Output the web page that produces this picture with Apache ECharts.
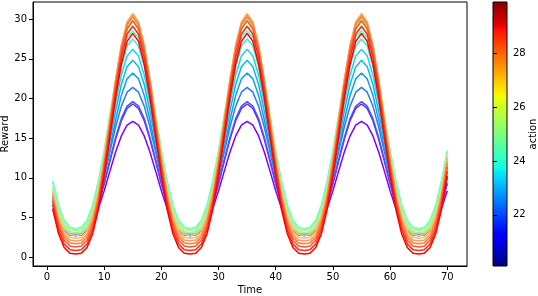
<!DOCTYPE html>
<html>
<head>
<meta charset="utf-8">
<script src="https://cdn.jsdelivr.net/npm/echarts@6.0.0/dist/echarts.min.js"></script>
<style>html,body{margin:0;padding:0;background:#fff;}#c{width:538px;height:296px;}</style>
</head>
<body>
<div id="c"></div>
<script>
const time = [1,2,3,4,5,6,7,8,9,10,11,12,13,14,15,16,17,18,19,20,21,22,23,24,25,26,27,28,29,30,31,32,33,34,35,36,37,38,39,40,41,42,43,44,45,46,47,48,49,50,51,52,53,54,55,56,57,58,59,60,61,62,63,64,65,66,67,68,69,70];
const actions = [20.10,20.62,21.13,21.65,22.16,22.68,23.19,23.71,24.23,24.74,25.26,25.77,26.29,26.81,27.32,27.84,28.35,28.87,29.38,29.90];
const xTicks = [0,10,20,30,40,50,60,70];
const yTicks = [0,5,10,15,20,25,30];
const cbTicks = [22,24,26,28];

const reward_0 = [6.17,4.45,3.35,2.85,
2.75,2.85,3.35,4.45,6.17,8.38,10.85,13.26,15.28,16.63,17.10,16.63,15.28,13.26,10.85,8.38,6.17,4.45,3.35,2.85,
2.75,2.85,3.35,4.45,6.17,8.38,10.85,13.26,15.28,16.63,17.10,16.63,15.28,13.26,10.85,8.38,6.17,4.45,3.35,2.85,
2.75,2.85,3.35,4.45,6.17,8.38,10.85,13.26,15.28,16.63,17.10,16.63,15.28,13.26,10.85,8.38,6.17,4.45,3.35,2.85,
2.75,2.85,3.35,4.45,6.17,8.38];
const reward_1 = [6.69,4.71,3.45,2.86,
2.75,2.86,3.45,4.71,6.69,9.24,12.09,14.87,17.20,18.75,19.30,18.75,17.20,14.87,12.09,9.24,6.69,4.71,3.45,2.86,
2.75,2.86,3.45,4.71,6.69,9.24,12.09,14.87,17.20,18.75,19.30,18.75,17.20,14.87,12.09,9.24,6.69,4.71,3.45,2.86,
2.75,2.86,3.45,4.71,6.69,9.24,12.09,14.87,17.20,18.75,19.30,18.75,17.20,14.87,12.09,9.24,6.69,4.71,3.45,2.86,
2.75,2.86,3.45,4.71,6.69,9.24];
const reward_2 = [6.76,4.75,3.46,2.86,
2.75,2.86,3.46,4.75,6.76,9.36,12.26,15.09,17.47,19.04,19.60,19.04,17.47,15.09,12.26,9.36,6.76,4.75,3.46,2.86,
2.75,2.86,3.46,4.75,6.76,9.36,12.26,15.09,17.47,19.04,19.60,19.04,17.47,15.09,12.26,9.36,6.76,4.75,3.46,2.86,
2.75,2.86,3.46,4.75,6.76,9.36,12.26,15.09,17.47,19.04,19.60,19.04,17.47,15.09,12.26,9.36,6.76,4.75,3.46,2.86,
2.75,2.86,3.46,4.75,6.76,9.36];
const reward_3 = [7.19,4.96,3.53,2.87,
2.75,2.87,3.53,4.96,7.19,10.07,13.27,16.41,19.04,20.79,21.40,20.79,19.04,16.41,13.27,10.07,7.19,4.96,3.53,2.87,
2.75,2.87,3.53,4.96,7.19,10.07,13.27,16.41,19.04,20.79,21.40,20.79,19.04,16.41,13.27,10.07,7.19,4.96,3.53,2.87,
2.75,2.87,3.53,4.96,7.19,10.07,13.27,16.41,19.04,20.79,21.40,20.79,19.04,16.41,13.27,10.07,7.19,4.96,3.53,2.87,
2.75,2.87,3.53,4.96,7.19,10.07];
const reward_4 = [7.14,4.94,3.64,3.13,
3.05,3.13,3.64,4.94,7.14,10.18,13.72,17.30,20.38,22.47,23.20,22.47,20.38,17.30,13.72,10.18,7.14,4.94,3.64,3.13,
3.05,3.13,3.64,4.94,7.14,10.18,13.72,17.30,20.38,22.47,23.20,22.47,20.38,17.30,13.72,10.18,7.14,4.94,3.64,3.13,
3.05,3.13,3.64,4.94,7.14,10.18,13.72,17.30,20.38,22.47,23.20,22.47,20.38,17.30,13.72,10.18,7.14,4.94,3.64,3.13,
3.05,3.13,3.64,4.94,7.14,10.18];
const reward_5 = [7.47,5.09,3.69,3.13,
3.05,3.13,3.69,5.09,7.47,10.74,14.57,18.44,21.76,24.01,24.80,24.01,21.76,18.44,14.57,10.74,7.47,5.09,3.69,3.13,
3.05,3.13,3.69,5.09,7.47,10.74,14.57,18.44,21.76,24.01,24.80,24.01,21.76,18.44,14.57,10.74,7.47,5.09,3.69,3.13,
3.05,3.13,3.69,5.09,7.47,10.74,14.57,18.44,21.76,24.01,24.80,24.01,21.76,18.44,14.57,10.74,7.47,5.09,3.69,3.13,
3.05,3.13,3.69,5.09,7.47,10.74];
const reward_6 = [7.75,5.22,3.73,3.14,
3.05,3.14,3.73,5.22,7.75,11.24,15.31,19.43,22.96,25.36,26.20,25.36,22.96,19.43,15.31,11.24,7.75,5.22,3.73,3.14,
3.05,3.14,3.73,5.22,7.75,11.24,15.31,19.43,22.96,25.36,26.20,25.36,22.96,19.43,15.31,11.24,7.75,5.22,3.73,3.14,
3.05,3.14,3.73,5.22,7.75,11.24,15.31,19.43,22.96,25.36,26.20,25.36,22.96,19.43,15.31,11.24,7.75,5.22,3.73,3.14,
3.05,3.14,3.73,5.22,7.75,11.24];
const reward_7 = [8.02,5.34,3.77,3.14,
3.05,3.14,3.77,5.34,8.02,11.70,16.00,20.35,24.08,26.61,27.50,26.61,24.08,20.35,16.00,11.70,8.02,5.34,3.77,3.14,
3.05,3.14,3.77,5.34,8.02,11.70,16.00,20.35,24.08,26.61,27.50,26.61,24.08,20.35,16.00,11.70,8.02,5.34,3.77,3.14,
3.05,3.14,3.77,5.34,8.02,11.70,16.00,20.35,24.08,26.61,27.50,26.61,24.08,20.35,16.00,11.70,8.02,5.34,3.77,3.14,
3.05,3.14,3.77,5.34,8.02,11.70];
const reward_8 = [9.46,6.47,4.55,3.67,
3.50,3.67,4.55,6.47,9.46,13.31,17.61,21.81,25.33,27.68,28.50,27.68,25.33,21.81,17.61,13.31,9.46,6.47,4.55,3.67,
3.50,3.67,4.55,6.47,9.46,13.31,17.61,21.81,25.33,27.68,28.50,27.68,25.33,21.81,17.61,13.31,9.46,6.47,4.55,3.67,
3.50,3.67,4.55,6.47,9.46,13.31,17.61,21.81,25.33,27.68,28.50,27.68,25.33,21.81,17.61,13.31,9.46,6.47,4.55,3.67,
3.50,3.67,4.55,6.47,9.46,13.31];
const reward_9 = [9.67,6.62,4.67,3.77,
3.60,3.77,4.67,6.62,9.67,13.45,17.99,22.27,25.87,28.26,29.10,28.26,25.87,22.27,17.99,13.45,9.67,6.62,4.67,3.77,
3.60,3.77,4.67,6.62,9.67,13.45,17.99,22.27,25.87,28.26,29.10,28.26,25.87,22.27,17.99,13.45,9.67,6.62,4.67,3.77,
3.60,3.77,4.67,6.62,9.67,13.45,17.99,22.27,25.87,28.26,29.10,28.26,25.87,22.27,17.99,13.45,9.67,6.62,4.67,3.77,
3.60,3.77,4.67,6.62,9.67,13.45];
const reward_10 = [8.88,6.03,4.37,3.70,
3.60,3.70,4.37,6.03,8.88,12.79,17.37,21.99,25.97,28.65,29.60,28.65,25.97,21.99,17.37,12.79,8.88,6.03,4.37,3.70,
3.60,3.70,4.37,6.03,8.88,12.79,17.37,21.99,25.97,28.65,29.60,28.65,25.97,21.99,17.37,12.79,8.88,6.03,4.37,3.70,
3.60,3.70,4.37,6.03,8.88,12.79,17.37,21.99,25.97,28.65,29.60,28.65,25.97,21.99,17.37,12.79,8.88,6.03,4.37,3.70,
3.60,3.70,4.37,6.03,8.88,12.79];
const reward_11 = [8.76,5.84,4.14,3.45,
3.35,3.45,4.14,5.84,8.76,12.77,17.46,22.20,26.27,29.03,30.00,29.03,26.27,22.20,17.46,12.77,8.76,5.84,4.14,3.45,
3.35,3.45,4.14,5.84,8.76,12.77,17.46,22.20,26.27,29.03,30.00,29.03,26.27,22.20,17.46,12.77,8.76,5.84,4.14,3.45,
3.35,3.45,4.14,5.84,8.76,12.77,17.46,22.20,26.27,29.03,30.00,29.03,26.27,22.20,17.46,12.77,8.76,5.84,4.14,3.45,
3.35,3.45,4.14,5.84,8.76,12.77];
const reward_12 = [8.58,5.60,3.85,3.15,
3.05,3.15,3.85,5.60,8.58,12.69,17.48,22.33,26.49,29.31,30.30,29.31,26.49,22.33,17.48,12.69,8.58,5.60,3.85,3.15,
3.05,3.15,3.85,5.60,8.58,12.69,17.48,22.33,26.49,29.31,30.30,29.31,26.49,22.33,17.48,12.69,8.58,5.60,3.85,3.15,
3.05,3.15,3.85,5.60,8.58,12.69,17.48,22.33,26.49,29.31,30.30,29.31,26.49,22.33,17.48,12.69,8.58,5.60,3.85,3.15,
3.05,3.15,3.85,5.60,8.58,12.69];
const reward_13 = [8.39,5.35,3.57,2.86,
2.75,2.86,3.57,5.35,8.39,12.56,17.44,22.38,26.62,29.49,30.50,29.49,26.62,22.38,17.44,12.56,8.39,5.35,3.57,2.86,
2.75,2.86,3.57,5.35,8.39,12.56,17.44,22.38,26.62,29.49,30.50,29.49,26.62,22.38,17.44,12.56,8.39,5.35,3.57,2.86,
2.75,2.86,3.57,5.35,8.39,12.56,17.44,22.38,26.62,29.49,30.50,29.49,26.62,22.38,17.44,12.56,8.39,5.35,3.57,2.86,
2.75,2.86,3.57,5.35,8.39,12.56];
const reward_14 = [8.15,5.05,3.23,2.51,
2.40,2.51,3.23,5.05,8.15,12.41,17.39,22.42,26.74,29.67,30.70,29.67,26.74,22.42,17.39,12.41,8.15,5.05,3.23,2.51,
2.40,2.51,3.23,5.05,8.15,12.41,17.39,22.42,26.74,29.67,30.70,29.67,26.74,22.42,17.39,12.41,8.15,5.05,3.23,2.51,
2.40,2.51,3.23,5.05,8.15,12.41,17.39,22.42,26.74,29.67,30.70,29.67,26.74,22.42,17.39,12.41,8.15,5.05,3.23,2.51,
2.40,2.51,3.23,5.05,8.15,12.41];
const reward_15 = [7.85,4.72,2.89,2.16,
2.05,2.16,2.89,4.72,7.85,12.15,17.17,22.25,26.61,29.56,30.60,29.56,26.61,22.25,17.17,12.15,7.85,4.72,2.89,2.16,
2.05,2.16,2.89,4.72,7.85,12.15,17.17,22.25,26.61,29.56,30.60,29.56,26.61,22.25,17.17,12.15,7.85,4.72,2.89,2.16,
2.05,2.16,2.89,4.72,7.85,12.15,17.17,22.25,26.61,29.56,30.60,29.56,26.61,22.25,17.17,12.15,7.85,4.72,2.89,2.16,
2.05,2.16,2.89,4.72,7.85,12.15];
const reward_16 = [7.51,4.38,2.54,1.81,
1.70,1.81,2.54,4.38,7.51,11.81,16.84,21.93,26.30,29.26,30.30,29.26,26.30,21.93,16.84,11.81,7.51,4.38,2.54,1.81,
1.70,1.81,2.54,4.38,7.51,11.81,16.84,21.93,26.30,29.26,30.30,29.26,26.30,21.93,16.84,11.81,7.51,4.38,2.54,1.81,
1.70,1.81,2.54,4.38,7.51,11.81,16.84,21.93,26.30,29.26,30.30,29.26,26.30,21.93,16.84,11.81,7.51,4.38,2.54,1.81,
1.70,1.81,2.54,4.38,7.51,11.81];
const reward_17 = [7.09,3.97,2.14,1.41,
1.30,1.41,2.14,3.97,7.09,11.38,16.39,21.46,25.82,28.76,29.80,28.76,25.82,21.46,16.39,11.38,7.09,3.97,2.14,1.41,
1.30,1.41,2.14,3.97,7.09,11.38,16.39,21.46,25.82,28.76,29.80,28.76,25.82,21.46,16.39,11.38,7.09,3.97,2.14,1.41,
1.30,1.41,2.14,3.97,7.09,11.38,16.39,21.46,25.82,28.76,29.80,28.76,25.82,21.46,16.39,11.38,7.09,3.97,2.14,1.41,
1.30,1.41,2.14,3.97,7.09,11.38];
const reward_18 = [6.59,3.49,1.68,0.96,
0.85,0.96,1.68,3.49,6.59,10.84,15.81,20.83,25.15,28.07,29.10,28.07,25.15,20.83,15.81,10.84,6.59,3.49,1.68,0.96,
0.85,0.96,1.68,3.49,6.59,10.84,15.81,20.83,25.15,28.07,29.10,28.07,25.15,20.83,15.81,10.84,6.59,3.49,1.68,0.96,
0.85,0.96,1.68,3.49,6.59,10.84,15.81,20.83,25.15,28.07,29.10,28.07,25.15,20.83,15.81,10.84,6.59,3.49,1.68,0.96,
0.85,0.96,1.68,3.49,6.59,10.84];
const reward_19 = [6.05,3.00,1.22,0.51,
0.40,0.51,1.22,3.00,6.05,10.23,15.12,20.07,24.31,27.19,28.20,27.19,24.31,20.07,15.12,10.23,6.05,3.00,1.22,0.51,
0.40,0.51,1.22,3.00,6.05,10.23,15.12,20.07,24.31,27.19,28.20,27.19,24.31,20.07,15.12,10.23,6.05,3.00,1.22,0.51,
0.40,0.51,1.22,3.00,6.05,10.23,15.12,20.07,24.31,27.19,28.20,27.19,24.31,20.07,15.12,10.23,6.05,3.00,1.22,0.51,
0.40,0.51,1.22,3.00,6.05,10.23];

const rewards = [reward_0,reward_1,reward_2,reward_3,reward_4,reward_5,reward_6,reward_7,reward_8,reward_9,
  reward_10,reward_11,reward_12,reward_13,reward_14,reward_15,reward_16,reward_17,reward_18,reward_19];

function clamp(v){return Math.max(0,Math.min(1,v));}
function rainbow(x){
  const r = clamp(Math.abs(2*x-0.5)), g = clamp(Math.sin(Math.PI*x)), b = clamp(Math.cos(Math.PI*x/2));
  return 'rgb(' + Math.round(r*255) + ',' + Math.round(g*255) + ',' + Math.round(b*255) + ')';
}
const aMin = 20.1, aMax = 29.9;
const jetStops = [
  [0,'rgb(0,0,128)'],[0.11,'rgb(0,0,255)'],[0.125,'rgb(0,0,255)'],[0.34,'rgb(0,219,255)'],
  [0.35,'rgb(0,229,247)'],[0.375,'rgb(21,255,226)'],[0.64,'rgb(239,255,8)'],[0.65,'rgb(247,245,0)'],
  [0.66,'rgb(255,236,0)'],[0.89,'rgb(255,19,0)'],[0.91,'rgb(232,0,0)'],[1,'rgb(128,0,0)']
].map(s => ({offset: s[0], color: s[1]}));

const font = {fontFamily: 'DejaVu Sans', fontSize: 10, color: '#000'};
const chart = echarts.init(document.getElementById('c'), null, {renderer: 'canvas'});
chart.setOption({
  animation: false,
  backgroundColor: '#fff',
  grid: [
    {left: 33, top: 2, width: 434, height: 264, show: true, borderColor: '#000', borderWidth: 1,
     backgroundColor: 'transparent', containLabel: false, outerBoundsMode: 'none'},
    {left: 493, top: 2, width: 14, height: 264, show: true, borderColor: '#000', borderWidth: 1,
     containLabel: false, outerBoundsMode: 'none',
     backgroundColor: new echarts.graphic.LinearGradient(0, 1, 0, 0, jetStops)}
  ],
  xAxis: [
    {type: 'value', gridIndex: 0, min: -2.45, max: 73.45,
     name: 'Time', nameLocation: 'middle', nameGap: 19, nameMoveOverlap: false, nameTextStyle: font,
     axisLine: {show: true, onZero: false, lineStyle: {color: '#000', width: 1}},
     axisTick: {show: true, length: 4, customValues: xTicks, lineStyle: {color: '#000'}},
     axisLabel: {customValues: xTicks, margin: 6, ...font},
     splitLine: {show: false}},
    {type: 'value', gridIndex: 1, min: 0, max: 1, show: false}
  ],
  yAxis: [
    {type: 'value', gridIndex: 0, min: -1.1, max: 32.15,
     name: 'Reward', nameLocation: 'middle', nameRotate: 90, nameGap: 23, nameMoveOverlap: false, nameTextStyle: font,
     axisLine: {show: true, onZero: false, lineStyle: {color: '#000', width: 1}},
     axisTick: {show: true, length: 4, customValues: yTicks, lineStyle: {color: '#000'}},
     axisLabel: {customValues: yTicks, margin: 6, ...font},
     splitLine: {show: false}},
    {type: 'value', gridIndex: 1, min: aMin, max: aMax, position: 'right',
     name: 'action', nameLocation: 'middle', nameRotate: 90, nameGap: 21, nameMoveOverlap: false, nameTextStyle: font,
     axisLine: {show: false},
     axisTick: {show: true, length: 4, customValues: cbTicks, lineStyle: {color: '#000'}},
     axisLabel: {customValues: cbTicks, margin: 6, ...font},
     splitLine: {show: false}}
  ],
  series: rewards.map((vals, i) => ({
    type: 'line',
    xAxisIndex: 0, yAxisIndex: 0,
    data: time.map((t, j) => [t, vals[j]]),
    showSymbol: false, symbol: 'none', silent: true,
    lineStyle: {width: 1.5, color: rainbow((actions[i] - aMin) / (aMax - aMin))},
    itemStyle: {color: rainbow((actions[i] - aMin) / (aMax - aMin))},
    z: 2 + i * 0.01
  }))
});
</script>
</body>
</html>
